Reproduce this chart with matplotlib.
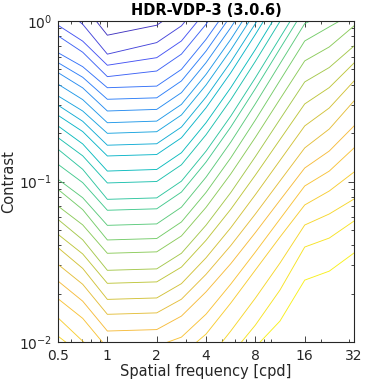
import numpy as np
import matplotlib

matplotlib.use("Agg")
import matplotlib.pyplot as plt
from matplotlib.colors import LinearSegmentedColormap
from matplotlib.ticker import FixedFormatter, FixedLocator, LogLocator, NullFormatter

nan = float("nan")

# spatial frequencies (cpd) where the contour lines bend
freqs = [0.5, 0.707, 1, 2, 2.83, 4, 5.66, 8, 11.3, 16, 22.6, 32]

# log10 contrast of each contour line at those frequencies
log_contrast_by_level = [
    [nan, 0.105, -0.089, -0.027, 0.077, nan, nan, nan, nan, nan, nan, nan],
    [0.103, -0.021, -0.207, -0.135, -0.031, 0.156, nan, nan, nan, nan, nan, nan],
    [-0.027, -0.126, -0.276, -0.229, -0.125, 0.062, nan, nan, nan, nan, nan, nan],
    [-0.093, -0.195, -0.347, -0.312, -0.207, -0.021, 0.198, nan, nan, nan, nan, nan],
    [-0.198, -0.285, -0.416, -0.406, -0.302, -0.115, 0.103, nan, nan, nan, nan, nan],
    [-0.260, -0.351, -0.488, -0.479, -0.374, -0.188, 0.031, nan, nan, nan, nan, nan],
    [-0.322, -0.417, -0.561, -0.551, -0.447, -0.260, -0.042, 0.196, nan, nan, nan, nan],
    [-0.394, -0.490, -0.634, -0.624, -0.520, -0.333, -0.115, 0.123, nan, nan, nan, nan],
    [-0.467, -0.561, -0.700, -0.690, -0.586, -0.399, -0.181, 0.057, nan, nan, nan, nan],
    [-0.525, -0.625, -0.774, -0.765, -0.661, -0.474, -0.256, -0.017, 0.232, nan, nan, nan],
    [-0.588, -0.689, -0.841, -0.832, -0.728, -0.541, -0.323, -0.084, 0.165, nan, nan, nan],
    [-0.654, -0.766, -0.935, -0.925, -0.821, -0.634, -0.416, -0.178, 0.072, nan, nan, nan],
    [-0.727, -0.840, -1.009, -1.000, -0.896, -0.709, -0.491, -0.252, -0.003, 0.246, nan, nan],
    [-0.799, -0.924, -1.111, -1.102, -0.998, -0.811, -0.593, -0.354, -0.105, 0.145, nan, nan],
    [-0.893, -1.007, -1.179, -1.170, -1.066, -0.879, -0.661, -0.422, -0.173, 0.076, nan, nan],
    [-0.986, -1.101, -1.273, -1.264, -1.160, -0.973, -0.755, -0.516, -0.267, -0.017, 0.056, nan],
    [-1.049, -1.175, -1.364, -1.355, -1.252, -1.068, -0.853, -0.617, -0.371, -0.125, -0.037, 0.050],
    [-1.153, -1.270, -1.447, -1.438, -1.339, -1.161, -0.953, -0.725, -0.487, -0.249, -0.162, -0.031],
    [-1.236, -1.363, -1.553, -1.544, -1.447, -1.272, -1.069, -0.845, -0.613, -0.380, -0.290, -0.156],
    [-1.329, -1.451, -1.634, -1.625, -1.533, -1.366, -1.173, -0.960, -0.739, -0.517, -0.415, -0.262],
    [-1.412, -1.541, -1.734, -1.725, -1.636, -1.475, -1.288, -1.082, -0.869, -0.654, -0.542, -0.374],
    [-1.516, -1.640, -1.827, -1.818, -1.733, -1.578, -1.399, -1.202, -0.997, -0.791, -0.673, -0.498],
    [-1.620, -1.745, -1.931, -1.922, -1.838, -1.687, -1.512, -1.318, -1.117, -0.916, -0.810, -0.654],
    [-1.730, -1.852, -2.037, -2.025, -1.969, -1.826, -1.639, -1.439, -1.234, -1.028, -0.935, -0.791],
    [-1.849, -1.994, -2.137, -2.125, -2.081, -1.950, -1.757, -1.551, -1.346, -1.146, -1.059, -0.941],
    [-1.963, -2.081, -2.237, -2.218, -2.187, -2.125, -1.931, -1.726, -1.508, -1.271, -1.202, -1.109],
    [nan, nan, nan, nan, nan, -2.237, -2.081, -1.894, -1.676, -1.408, -1.352, -1.246],
    [nan, nan, nan, nan, nan, nan, -2.206, -2.031, -1.869, -1.614, -1.558, -1.445],
]

x_ticks = [0.5, 1, 2, 4, 8, 16, 32]
x_tick_labels = ["0.5", "1", "2", "4", "8", "16", "32"]
y_ticks = [0.01, 0.1, 1]
y_tick_labels = [r"$10^{-2}$", r"$10^{-1}$", r"$10^{0}$"]

# approximation of MATLAB's parula
parula = LinearSegmentedColormap.from_list("parula", [
    (0.2422, 0.1504, 0.6603),
    (0.2783, 0.3250, 0.9531),
    (0.1836, 0.4921, 0.9776),
    (0.1113, 0.6346, 0.8887),
    (0.0262, 0.7262, 0.7606),
    (0.2161, 0.7843, 0.5923),
    (0.4925, 0.8010, 0.3942),
    (0.7744, 0.7720, 0.2240),
    (0.9745, 0.7353, 0.2411),
    (0.9655, 0.8442, 0.1733),
    (0.9769, 0.9839, 0.0805),
])

axis_color = (0.15, 0.15, 0.15)

fig = plt.figure(figsize=(3.65, 3.87), dpi=100)
ax = fig.add_axes([0.159, 0.116, 0.811, 0.830])

n_levels = len(log_contrast_by_level)
for k, row in enumerate(log_contrast_by_level):
    ax.plot(freqs, 10 ** np.array(row), color=parula((k + 1) / (n_levels + 1)), lw=0.65)

ax.set_xscale("log")
ax.set_yscale("log")
ax.set_xlim(0.5, 32)
ax.set_ylim(0.01, 1)

ax.xaxis.set_major_locator(FixedLocator(x_ticks))
ax.xaxis.set_major_formatter(FixedFormatter(x_tick_labels))
ax.xaxis.set_minor_locator(LogLocator(base=10, subs=np.arange(1, 10)))
ax.xaxis.set_minor_formatter(NullFormatter())
ax.yaxis.set_major_locator(FixedLocator(y_ticks))
ax.yaxis.set_major_formatter(FixedFormatter(y_tick_labels))
ax.yaxis.set_minor_locator(LogLocator(base=10, subs=np.arange(2, 10)))
ax.yaxis.set_minor_formatter(NullFormatter())

ax.tick_params(which="both", direction="in", top=True, right=True, colors=axis_color,
               labelsize=10, width=0.6)
ax.tick_params(which="major", length=4)
ax.tick_params(which="minor", length=2.5)
ax.tick_params(axis="x", which="major", pad=5)
ax.tick_params(axis="y", which="major", pad=4)
for spine in ax.spines.values():
    spine.set_color(axis_color)
    spine.set_linewidth(0.8)

ax.set_xlabel("Spatial frequency [cpd]", fontsize=10.5, color=axis_color, labelpad=1)
ax.set_ylabel("Contrast", fontsize=10.5, color=axis_color, labelpad=2)
ax.set_title("HDR-VDP-3 (3.0.6)", fontsize=10.5, fontweight="bold", pad=4)

fig.savefig("out.png", dpi=100)
